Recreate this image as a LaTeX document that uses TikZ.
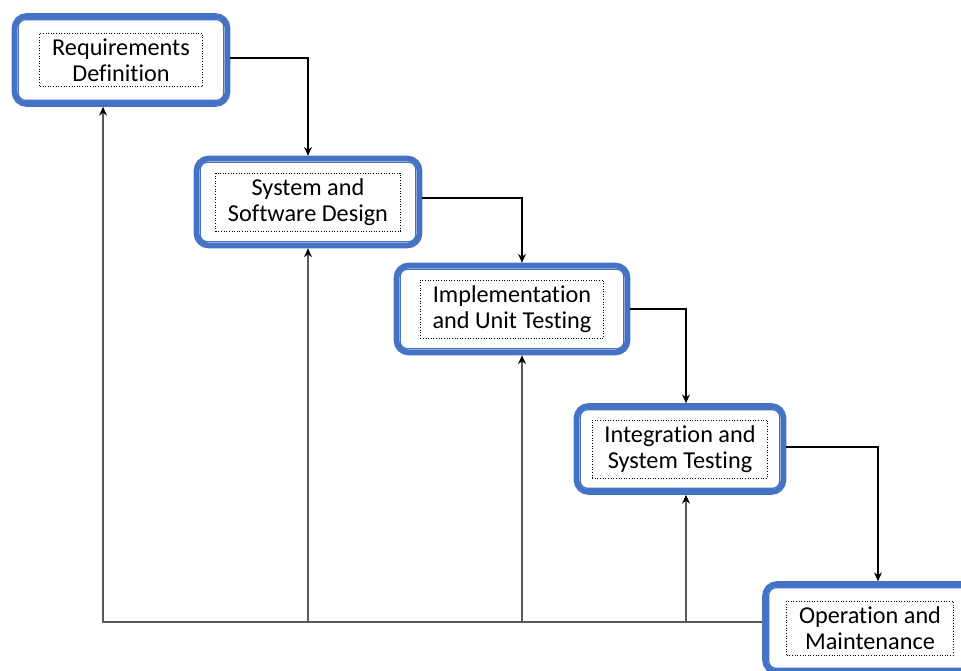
\documentclass[tikz,border=0pt]{standalone}
\usepackage{fontspec}
\setmainfont{Carlito}[Ligatures=NoCommon]
\usepackage{xcolor}
\usetikzlibrary{calc,arrows.meta}
\definecolor{stageblue}{HTML}{4472C4}
\tikzset{
  stage/.style={draw=stageblue,line width=3.2pt,rounded corners=0.24cm,fill=white},
  stageinner/.style={draw=stageblue,line width=0.7pt,rounded corners=0.15cm},
  stagetext/.style={draw,densely dotted,line width=0.5pt,align=center,inner xsep=7pt,inner ysep=3pt,font=\fontsize{13.8}{15}\selectfont},
  forward/.style={draw,line width=0.6pt,-{Stealth[length=5pt,width=4.5pt]}},
  feedback/.style={draw=gray!70!black,line width=1pt,-{Stealth[length=5pt,width=4.5pt,color=black]}}
}
\newcommand{\stagebox}[5]{%
  \node[stage,minimum width=#3,minimum height=#4] (#1) at #2 {};
  \draw[stageinner] ($(#1.north west)+(0.13,-0.13)$) rectangle ($(#1.south east)+(-0.13,0.13)$);
  \node[stagetext] (#1t) at (#1) {#5};
}
\begin{document}
\begin{tikzpicture}
  \useasboundingbox (0,0) rectangle (19.22,-13.42);
  \clip (0,0) rectangle (19.22,-13.42);
  % stages
  \stagebox{req}{(2.42,-1.20)}{4.26cm}{1.76cm}{Requirements\\Definition}
  \stagebox{des}{(6.16,-4.04)}{4.46cm}{1.74cm}{System and\\Software Design}
  \stagebox{imp}{(10.24,-6.18)}{4.62cm}{1.74cm}{Implementation\\and Unit Testing}
  \stagebox{int}{(13.60,-8.98)}{4.14cm}{1.72cm}{Integration and\\System Testing}
  \stagebox{ops}{(17.40,-12.56)}{4.20cm}{1.76cm}{Operation and\\Maintenance}
  % attachment points
  \coordinate (reqin) at ([xshift=-0.36cm]req.south);
  \coordinate (impin) at ([xshift=0.20cm]imp.north);
  \coordinate (impup) at ([xshift=0.20cm]imp.south);
  \coordinate (intin) at ([xshift=0.12cm]int.north);
  \coordinate (intup) at ([xshift=0.12cm]int.south);
  \coordinate (opsin) at ([xshift=0.16cm]ops.north);
  \coordinate (base) at ([yshift=0.12cm]ops.west);
  % forward
  \draw[forward] ([yshift=0.04cm]req.east) -| (des.north);
  \draw[forward] ([yshift=0.08cm]des.east) -| (impin);
  \draw[forward] (imp.east) -| (intin);
  \draw[forward] ([yshift=0.04cm]int.east) -| (opsin);
  % feedback
  \draw[feedback] (base) -| (reqin);
  \draw[feedback] (base -| des.south) -- (des.south);
  \draw[feedback] (base -| impup) -- (impup);
  \draw[feedback] (base -| intup) -- (intup);
\end{tikzpicture}
\end{document}
